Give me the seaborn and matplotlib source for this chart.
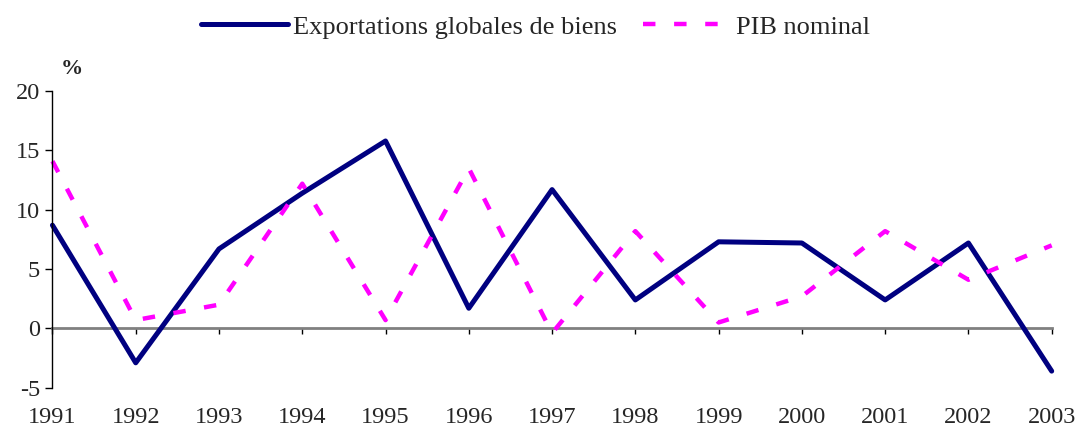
import matplotlib
matplotlib.use("Agg")
import matplotlib.pyplot as plt
import seaborn as sns
import pandas as pd

years = [1991, 1992, 1993, 1994, 1995, 1996, 1997, 1998, 1999, 2000, 2001, 2002, 2003]
exportations = [8.7, -2.9, 6.7, 11.4, 15.8, 1.7, 11.7, 2.4, 7.3, 7.2, 2.4, 7.2, -3.6]
pib = [14.1, 0.7, 2.0, 12.2, 0.7, 13.5, -0.4, 8.2, 0.5, 2.7, 8.2, 4.1, 7.0]
label_exp = "Exportations globales de biens"
label_pib = "PIB nominal"
yticks = [-5, 0, 5, 10, 15, 20]

sns.set_theme(style="white")
plt.rcParams['font.family'] = ['Liberation Serif', 'DejaVu Serif']
plt.rcParams['axes.unicode_minus'] = False

df = pd.DataFrame({"year": years, "exp": exportations, "pib": pib})

fig = plt.figure(figsize=(10.77, 4.32), dpi=100)
ax = fig.add_axes([0.0487, 0.1025, 0.9278, 0.6865])

sns.lineplot(data=df, x="year", y="exp", ax=ax, color="#000080", linewidth=3.6,
             label=label_exp, clip_on=False)
sns.lineplot(data=df, x="year", y="pib", ax=ax, color="#FF00FF", linewidth=3.2,
             label=label_pib, clip_on=False)
ax.lines[1].set_dashes([2.8, 4.2])
ax.lines[1].set_dash_capstyle("butt")

ax.set_xlim(1991, 2003)
ax.set_ylim(-5, 20)
ax.set_xticks(years)
ax.set_xticklabels([str(y) for y in years])
ax.set_yticks(yticks)
ax.set_yticklabels([str(t) for t in yticks])
ax.set_xlabel("")
ax.set_ylabel("")

for s in ["top", "right"]:
    ax.spines[s].set_visible(False)
ax.spines["left"].set_color("black")
ax.spines["left"].set_linewidth(1.0)
ax.spines["bottom"].set_position(("data", 0))
ax.spines["bottom"].set_color("#808080")
ax.spines["bottom"].set_linewidth(2.0)
ax.spines["bottom"].set_zorder(1)

ax.tick_params(axis="y", direction="out", length=5, width=1, color="black",
               labelsize=17.5, pad=4, left=True)
ax.tick_params(axis="x", direction="out", length=4.5, width=1, color="black",
               labelsize=17.5, pad=52, bottom=True)

fig.text(0.067, 0.84, "%", fontsize=16, fontweight="bold", ha="center", va="center")

leg = ax.legend(loc="center", bbox_to_anchor=(0.497, 0.938), bbox_transform=fig.transFigure,
                ncol=2, frameon=False, fontsize=19, handlelength=3.3,
                columnspacing=1.0, handletextpad=0.2)
leg.get_lines()[1].set_dashes([2.8, 4.2])

fig.savefig("out.png", dpi=100)
